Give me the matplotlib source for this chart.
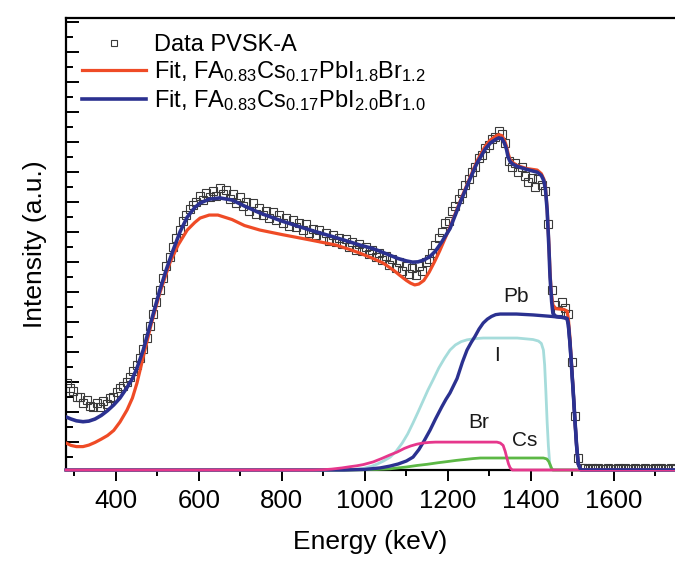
import matplotlib
matplotlib.use('Agg')
import matplotlib.pyplot as plt
import numpy as np
from matplotlib.lines import Line2D

plt.rcParams['font.family'] = ['Liberation Sans', 'DejaVu Sans']
plt.rcParams['mathtext.fontset'] = 'custom'
plt.rcParams['mathtext.rm'] = 'Liberation Sans'
plt.rcParams['mathtext.default'] = 'regular'

# measured spectrum (8 keV channels starting at 282 keV)
e_start, e_step = 282, 8
counts = [
    2.9, 2.75, 2.65, 2.45, 2.45, 2.25, 2.35, 2.15, 2.1, 2.25,
    2.1, 2.3, 2.2, 2.4, 2.45, 2.6, 2.75, 2.8, 2.95, 3.1,
    3.3, 3.5, 3.75, 4.05, 4.4, 4.8, 5.2, 5.6, 6.0, 6.4,
    6.8, 7.1, 7.45, 7.75, 8.0, 8.3, 8.5, 8.7, 8.85, 8.95,
    9.15, 9.0, 9.25, 9.1, 9.3, 9.15, 9.4, 9.2, 9.35, 9.05,
    9.2, 8.9, 9.1, 8.8, 8.95, 8.65, 8.9, 8.55, 8.75, 8.5,
    8.65, 8.4, 8.6, 8.35, 8.5, 8.25, 8.4, 8.15, 8.35, 8.1,
    8.25, 8.0, 8.2, 7.9, 8.05, 7.85, 8.0, 7.75, 7.9, 7.65,
    7.85, 7.6, 7.75, 7.55, 7.7, 7.45, 7.6, 7.35, 7.55, 7.3,
    7.45, 7.2, 7.35, 7.1, 7.25, 7.0, 7.15, 6.85, 7.05, 6.75,
    6.95, 6.65, 6.8, 6.55, 6.75, 6.5, 6.8, 6.65, 6.95, 7.05,
    7.25, 7.5, 7.75, 7.95, 8.25, 8.3, 8.65, 8.8, 9.05, 9.25,
    9.5, 9.7, 9.95, 10.1, 10.4, 10.5, 10.75, 10.85, 11.05, 11.1,
    11.3, 11.2, 10.9, 10.3, 10.1, 10.25, 9.95, 10.1, 9.8, 9.6,
    9.75, 9.45, 9.7, 9.5, 9.3, 8.2, 6.0, 5.5, 5.3, 5.6,
    5.4, 5.2, 3.6, 1.8, 0.4, 0.08,
    0.06, 0.04, 0.07, 0.05, 0.06, 0.04, 0.05, 0.07, 0.05, 0.04,
    0.06, 0.05, 0.07, 0.04, 0.05, 0.06, 0.04, 0.05, 0.06, 0.05,
    0.04, 0.06, 0.05, 0.07, 0.04, 0.05, 0.06, 0.05,
]
energy = e_start + e_step * np.arange(len(counts))

# fit FA0.83Cs0.17PbI2.0Br1.0 (blue)
fit_b_e = [280, 292, 305, 321, 335, 350, 365, 380, 395, 410, 427, 440, 451, 466,
           486, 506, 522, 538, 555, 572, 590, 603, 625, 651, 680, 710, 747, 800,
           868, 930, 988, 1020, 1044, 1080, 1100, 1115, 1128, 1142, 1157, 1170,
           1185, 1205, 1229, 1250, 1270, 1290, 1302, 1315, 1322, 1330, 1336, 1341,
           1345, 1350, 1356, 1367, 1390, 1415, 1425, 1431, 1435, 1439, 1443, 1446,
           1450, 1453, 1460, 1480, 1487, 1490, 1494, 1498, 1502, 1506, 1510, 1514,
           1520, 1750]
fit_b_y = [1.77, 1.7, 1.64, 1.61, 1.63, 1.7, 1.82, 1.98, 2.17, 2.4, 2.75, 3.05, 3.4,
           4.0, 5.0, 6.0, 6.7, 7.33, 7.95, 8.43, 8.75, 8.9, 9.03, 9.07, 9.0, 8.8,
           8.57, 8.3, 8.0, 7.75, 7.5, 7.38, 7.25, 7.05, 6.97, 6.93, 6.94, 7.0, 7.12,
           7.3, 7.6, 8.05, 8.9, 9.6, 10.23, 10.7, 10.9, 11.02, 11.07, 11.05, 10.9,
           10.7, 10.43, 10.28, 10.2, 10.12, 10.02, 9.93, 9.82, 9.65, 9.35, 8.67, 7.5,
           6.43, 5.6, 5.22, 5.12, 5.08, 5.05, 4.85, 4.23, 3.4, 2.57, 1.65, 0.8, 0.2,
           0.0, 0.0]

# fit FA0.83Cs0.17PbI1.8Br1.2 (red)
fit_r_e = [280, 292, 305, 321, 335, 350, 365, 380, 395, 410, 427, 440, 451, 466,
           486, 506, 530, 550, 572, 590, 603, 625, 646, 680, 710, 747, 800, 868,
           930, 964, 988, 1020, 1044, 1070, 1085, 1100, 1110, 1120, 1130, 1142,
           1155, 1168, 1180, 1205, 1229, 1250, 1270, 1290, 1302, 1315, 1322, 1330,
           1336, 1341, 1345, 1350, 1356, 1367, 1390, 1415, 1425, 1431, 1435, 1439,
           1443, 1446, 1449, 1453, 1460, 1480, 1487, 1490, 1494, 1498, 1502, 1506,
           1510, 1514, 1520, 1750]
fit_r_y = [0.9, 0.82, 0.78, 0.78, 0.83, 0.92, 1.03, 1.15, 1.32, 1.6, 2.0, 2.4, 2.9,
           3.77, 4.9, 5.9, 6.9, 7.5, 8.0, 8.25, 8.4, 8.5, 8.5, 8.35, 8.15, 8.0, 7.85,
           7.67, 7.5, 7.35, 7.23, 7.05, 6.9, 6.65, 6.48, 6.32, 6.23, 6.17, 6.2, 6.32,
           6.6, 6.95, 7.3, 8.1, 8.95, 9.65, 10.3, 10.8, 11.0, 11.13, 11.18, 11.15, 11.0,
           10.8, 10.55, 10.35, 10.25, 10.15, 10.05, 10.0, 9.88, 9.7, 9.4, 8.7, 7.6,
           6.6, 5.9, 5.5, 5.38, 5.35, 5.3, 5.05, 4.4, 3.5, 2.6, 1.65, 0.8, 0.2, 0.0, 0.0]

# element contributions
pb_e = [280, 950, 1000, 1037, 1060, 1080, 1100, 1116, 1130, 1143, 1157, 1170, 1185,
        1195, 1205, 1222, 1235, 1246, 1256, 1265, 1275, 1285, 1295, 1305, 1315,
        1326, 1365, 1405, 1450, 1480, 1487, 1490, 1494, 1498, 1502, 1506, 1510,
        1514, 1520, 1750]
pb_y = [0.0, 0.0, 0.02, 0.07, 0.13, 0.2, 0.3, 0.43, 0.68, 0.98, 1.33, 1.7, 2.1,
        2.35, 2.57, 3.05, 3.6, 4.0, 4.25, 4.45, 4.7, 4.9, 5.03, 5.12, 5.18,
        5.2, 5.2, 5.17, 5.12, 5.08, 5.05, 4.85, 4.23, 3.4, 2.57, 1.65, 0.8,
        0.2, 0.0, 0.0]
i_e = [280, 940, 970, 996, 1015, 1030, 1045, 1061, 1075, 1090, 1103, 1116, 1128,
       1140, 1152, 1164, 1178, 1192, 1205, 1218, 1232, 1246, 1265, 1285, 1367,
       1405, 1418, 1425, 1430, 1433, 1436, 1439, 1442, 1445, 1448, 1452, 1750]
i_y = [0.0, 0.0, 0.02, 0.05, 0.12, 0.2, 0.3, 0.43, 0.62, 0.9, 1.2, 1.57, 1.93,
       2.3, 2.67, 3.0, 3.4, 3.73, 4.0, 4.17, 4.28, 4.34, 4.38, 4.4, 4.4,
       4.35, 4.3, 4.22, 4.0, 3.5, 2.6, 1.6, 0.8, 0.25, 0.05, 0.0, 0.0]
br_e = [280, 875, 900, 920, 945, 964, 980, 996, 1020, 1040, 1060, 1078, 1095, 1110,
        1125, 1140, 1155, 1170, 1318, 1326, 1333, 1338, 1342, 1346, 1350, 1355, 1750]
br_y = [0.0, 0.0, 0.01, 0.03, 0.07, 0.11, 0.14, 0.18, 0.27, 0.38, 0.5, 0.6, 0.72, 0.8,
        0.86, 0.9, 0.92, 0.93, 0.93, 0.9, 0.82, 0.62, 0.4, 0.2, 0.07, 0.0, 0.0]
cs_e = [280, 960, 1000, 1030, 1061, 1080, 1100, 1125, 1150, 1175, 1198, 1220, 1240,
        1260, 1278, 1430, 1438, 1443, 1447, 1450, 1453, 1750]
cs_y = [0.0, 0.0, 0.01, 0.02, 0.04, 0.07, 0.1, 0.15, 0.19, 0.24, 0.28, 0.32, 0.35,
        0.38, 0.4, 0.4, 0.37, 0.28, 0.15, 0.05, 0.0, 0.0]

labels = [('Pb', 1364, 5.8), ('I', 1319, 3.83), ('Br', 1275, 1.6), ('Cs', 1386, 1.0)]

c_red = '#ef4b26'
c_blue = '#2b3190'
c_i = '#a6dcdb'
c_br = '#e6378c'
c_cs = '#5cb845'

fig = plt.figure(figsize=(6.75, 5.64), dpi=100)
ax = fig.add_axes([66 / 675, 94 / 564, 609 / 675, 452 / 564])

ax.plot(energy, counts, ls='none', marker='s', ms=5.3, mfc='none', mec='#3a3a3a',
        mew=0.8, zorder=2)
ax.plot(fit_r_e, fit_r_y, color=c_red, lw=2.3, zorder=3)
ax.plot(fit_b_e, fit_b_y, color=c_blue, lw=2.6, zorder=3.5)

ax.plot(i_e, i_y, color=c_i, lw=2.0, zorder=3, clip_on=False)
ax.plot(cs_e, cs_y, color=c_cs, lw=2.0, zorder=3.1, clip_on=False)
ax.plot(pb_e, pb_y, color=c_blue, lw=2.4, zorder=3.2, clip_on=False)
ax.plot(br_e, br_y, color=c_br, lw=2.0, zorder=3.3, clip_on=False)

for txt, x, y in labels:
    ax.text(x, y, txt, fontsize=15, ha='center', va='center', color='#1a1a1a')

ax.set_xlim(280, 1747)
ax.set_ylim(0, 15.07)

ax.set_xticks(np.arange(400, 1700, 200))
ax.set_xticks(np.arange(300, 1750, 100), minor=True)
ax.set_yticks(np.arange(0.943, 15, 1.0))
ax.set_yticks(np.arange(0.443, 15, 1.0), minor=True)
ax.set_yticklabels([])

ax.tick_params(axis='x', which='major', direction='out', length=8, width=1.4,
               labelsize=18.5, pad=6, top=False)
ax.tick_params(axis='x', which='minor', direction='out', length=4.5, width=1.4, top=False)
ax.tick_params(axis='y', which='major', direction='in', length=9, width=1.4, right=False)
ax.tick_params(axis='y', which='minor', direction='in', length=5, width=1.4, right=False)

for s in ['left', 'bottom', 'top']:
    ax.spines[s].set_linewidth(1.6)
ax.spines['right'].set_visible(False)

ax.set_xlabel('Energy (keV)', fontsize=19, labelpad=12)
ax.set_ylabel('Intensity (a.u.)', fontsize=19, labelpad=10)

handles = [
    Line2D([], [], ls='none', marker='s', ms=4.5, mfc='none', mec='#3a3a3a', mew=0.8),
    Line2D([], [], color=c_red, lw=2.3),
    Line2D([], [], color=c_blue, lw=2.6),
]
names = ['Data PVSK-A',
         'Fit, FA$_{0.83}$Cs$_{0.17}$PbI$_{1.8}$Br$_{1.2}$',
         'Fit, FA$_{0.83}$Cs$_{0.17}$PbI$_{2.0}$Br$_{1.0}$']
ax.legend(handles, names, loc='upper left', bbox_to_anchor=(0.026, 0.965),
          frameon=False, fontsize=17, handlelength=2.7, handletextpad=0.35,
          labelspacing=0.15, borderpad=0, borderaxespad=0)

fig.savefig('out.png', dpi=100)
